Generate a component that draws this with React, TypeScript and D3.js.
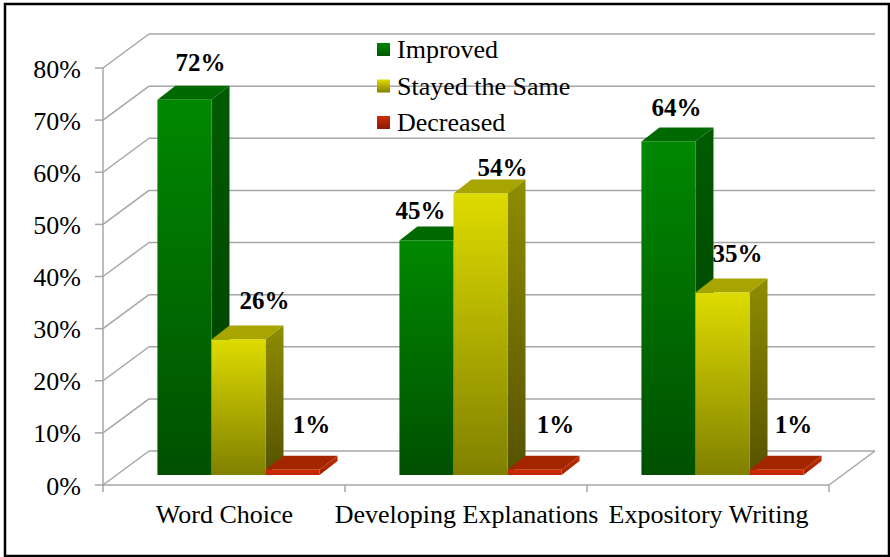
import * as d3 from "d3";

const categories = ["Word Choice", "Developing Explanations", "Expository Writing"];
const seriesNames = ["Improved", "Stayed the Same", "Decreased"];
const improved = [72, 45, 64];
const stayed = [26, 54, 35];
const decreased = [1, 1, 1];
const yTicks = [0, 10, 20, 30, 40, 50, 60, 70, 80];

// per series: front gradient top/bottom, side gradient top/bottom, top face
const colors = [
    { front: ["#008800", "#005000"], side: ["#005c00", "#003c00"], top: "#006a00", key: ["#008400", "#005a00"] },
    { front: ["#dedb00", "#808000"], side: ["#8f8d00", "#555200"], top: "#a8a400", key: ["#e0dc00", "#858000"] },
    { front: ["#d42c00", "#b82600"], side: ["#c42c00", "#a02000"], top: "#a32600", key: ["#d02c00", "#8a1c00"] },
];

// where each value label sits relative to the top centre of its bar
const labelNudge = [
    [[16, -29], [26, -30], [19, -37]],
    [[-6, -21], [22, -18], [21, -37]],
    [[8, -25], [15, -31], [17, -37]],
];

const width = 890;
const height = 557;
const wallX = 46;
const wallY = 34;
const barShiftX = 14.5;
const barShiftY = 10;
const depthX = 18;
const depthY = 14;
const gridColor = "#a6a6a6";
const serif = "'Liberation Serif', 'Times New Roman', serif";

export default function App() {
    const values = [improved, stayed, decreased];
    const y = d3.scaleLinear([0, 80], [485, 68]);
    const x = d3.scaleBand(categories, [103, 829]).paddingInner(0.33).paddingOuter(0.165);
    const xs = d3.scaleBand(seriesNames, [0, x.bandwidth()]);
    const legendY = d3.scalePoint(seriesNames, [50, 123]);
    const poly = d3.line();

    return (
        <svg
            width={width}
            height={height}
            style={{ position: "absolute", left: 0, top: 0, background: "#fff", fontFamily: serif }}
        >
            <defs>
                {colors.map((c, i) => (
                    <g key={i}>
                        {["front", "side", "key"].map((part) => (
                            <linearGradient key={part} id={`${part}${i}`} x1="0" y1="0" x2="0" y2="1">
                                <stop offset="0" stopColor={c[part][0]} />
                                <stop offset="1" stopColor={c[part][1]} />
                            </linearGradient>
                        ))}
                    </g>
                ))}
            </defs>
            <rect x={5} y={4} width={884} height={552} fill="none" stroke="#000" strokeWidth={2.5} />

            {/* walls and floor */}
            <g stroke={gridColor} strokeWidth={1.5} fill="none">
                {yTicks.map((t) => (
                    <g key={t}>
                        <line x1={103 + wallX} x2={829 + wallX} y1={y(t) - wallY} y2={y(t) - wallY} />
                        <line x1={103} x2={103 + wallX} y1={y(t)} y2={y(t) - wallY} />
                        <line x1={95} x2={103} y1={y(t)} y2={y(t)} />
                    </g>
                ))}
                <line x1={103} x2={103} y1={y(80)} y2={y(0)} />
                <line x1={103} x2={829} y1={y(0)} y2={y(0)} />
                <line x1={829} x2={829 + wallX} y1={y(0)} y2={y(0) - wallY} />
                {[0, 1, 2, 3].map((i) => {
                    const tx = 103 + i * x.step();
                    return <line key={i} x1={tx} x2={tx} y1={y(0)} y2={y(0) + 7} />;
                })}
            </g>

            {yTicks.map((t) => (
                <text key={t} x={81} y={y(t) + 9.5} textAnchor="end" fontSize={26} fill="#000">
                    {t}%
                </text>
            ))}

            {/* bars, left to right so that later faces cover earlier sides */}
            {categories.map((cat, ci) =>
                seriesNames.map((s, si) => {
                    const left = x(cat) + xs(s) + barShiftX;
                    const right = left + xs.bandwidth();
                    const top = y(values[si][ci]) - barShiftY;
                    const bottom = y(0) - barShiftY;
                    return (
                        <g key={s}>
                            <path
                                d={poly([[left, top], [right, top], [right + depthX, top - depthY], [left + depthX, top - depthY]]) + "Z"}
                                fill={colors[si].top}
                            />
                            <path
                                d={poly([[right, top], [right + depthX, top - depthY], [right + depthX, bottom - depthY], [right, bottom]]) + "Z"}
                                fill={`url(#side${si})`}
                            />
                            <rect x={left} y={top} width={right - left} height={bottom - top} fill={`url(#front${si})`} />
                        </g>
                    );
                })
            )}

            {categories.map((cat, ci) =>
                seriesNames.map((s, si) => (
                    <text
                        key={s}
                        x={x(cat) + xs(s) + barShiftX + xs.bandwidth() / 2 + labelNudge[ci][si][0]}
                        y={y(values[si][ci]) - barShiftY + labelNudge[ci][si][1]}
                        textAnchor="middle"
                        fontSize={25}
                        fontWeight="bold"
                        fill="#000"
                    >
                        {values[si][ci]}%
                    </text>
                ))
            )}

            {categories.map((cat) => (
                <text key={cat} x={x(cat) + x.bandwidth() / 2 + 0.5} y={523} textAnchor="middle" fontSize={26} fill="#000">
                    {cat}
                </text>
            ))}

            {seriesNames.map((s, si) => (
                <g key={s}>
                    <rect x={377} y={legendY(s) - 7} width={13} height={13} fill={`url(#key${si})`} />
                    <text x={397} y={legendY(s) + 8} fontSize={26} fill="#000">
                        {s}
                    </text>
                </g>
            ))}
        </svg>
    );
}
